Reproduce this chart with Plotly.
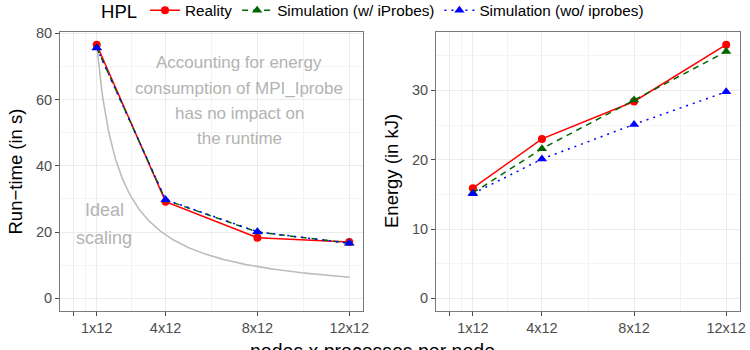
import numpy as np
import plotly.graph_objects as go

# ---------------- data ----------------
nodes = [1, 4, 8, 12]
tick_vals = [0, 1, 4, 8, 12]
tick_text = ["", "1x12", "4x12", "8x12", "12x12"]

runtime_reality = [76.6, 29.2, 18.3, 17.0]
runtime_sim_iprobes = [75.7, 29.7, 20.0, 16.7]
runtime_sim_no_iprobes = [75.6, 29.8, 20.1, 16.6]

energy_reality = [15.9, 23.0, 28.4, 36.6]
energy_sim_iprobes = [15.2, 21.6, 28.6, 35.6]
energy_sim_no_iprobes = [15.1, 20.1, 25.1, 29.8]

series_names = ["Reality", "Simulation (w/ iProbes)", "Simulation (wo/ iprobes)"]

# ideal scaling derived from the single-node run time
ideal_nodes = np.linspace(1, 12, 200)
ideal_runtime = runtime_reality[0] / ideal_nodes

# ---------------- style ----------------
FONT = "Liberation Sans, Arial, sans-serif"
RED, GREEN, BLUE = "#ff0000", "#006400", "#0000ff"
GRID_MAJOR, GRID_MINOR = "#ebebeb", "#f4f4f4"
BORDER = "#7a7a7a"
TICKFONT = dict(family=FONT, size=14.5, color="#4d4d4d")
GREY_TXT = "#b3b3b3"

styles = [
    dict(color=RED, dash="solid", symbol="circle", size=8),
    dict(color=GREEN, dash="6px,5px", symbol="triangle-up", size=9),
    dict(color=BLUE, dash="2px,5px", symbol="triangle-up", size=9),
]

fig = go.Figure()

fig.add_trace(go.Scatter(x=ideal_nodes, y=ideal_runtime, mode="lines",
                         line=dict(color="#bdbdbd", width=1.6),
                         showlegend=False, hoverinfo="skip",
                         xaxis="x", yaxis="y"))

for i, (rt, en) in enumerate(zip(
        [runtime_reality, runtime_sim_iprobes, runtime_sim_no_iprobes],
        [energy_reality, energy_sim_iprobes, energy_sim_no_iprobes])):
    st = styles[i]
    common = dict(mode="lines+markers",
                  line=dict(color=st["color"], width=1.5, dash=st["dash"]),
                  marker=dict(color=st["color"], symbol=st["symbol"], size=st["size"]),
                  name=series_names[i], legendgroup=series_names[i])
    fig.add_trace(go.Scatter(x=nodes, y=rt, xaxis="x", yaxis="y", showlegend=True, **common))
    fig.add_trace(go.Scatter(x=nodes, y=en, xaxis="x2", yaxis="y2", showlegend=False, **common))


def xaxis_cfg(domain, anchor):
    return dict(domain=domain, anchor=anchor, range=[-0.6, 12.6],
                tickmode="array", tickvals=tick_vals, ticktext=tick_text,
                ticks="outside", ticklen=4, tickcolor="#4d4d4d", tickwidth=1,
                tickfont=TICKFONT, showline=True, linecolor=BORDER, linewidth=1,
                mirror=True, showgrid=True, gridcolor=GRID_MAJOR, gridwidth=1,
                zeroline=False,
                minor=dict(tickmode="array", tickvals=[0.5, 2.5, 6, 10],
                           showgrid=True, gridcolor=GRID_MINOR, gridwidth=1, ticks=""))


def yaxis_cfg(domain, anchor, rng, tv, mv):
    return dict(domain=domain, anchor=anchor, range=rng,
                tickmode="array", tickvals=tv,
                ticks="outside", ticklen=4, tickcolor="#4d4d4d", tickwidth=1,
                tickfont=TICKFONT, showline=True, linecolor=BORDER, linewidth=1,
                mirror=True, showgrid=True, gridcolor=GRID_MAJOR, gridwidth=1,
                zeroline=False,
                minor=dict(tickmode="array", tickvals=mv,
                           showgrid=True, gridcolor=GRID_MINOR, gridwidth=1, ticks=""))


ydom = [39 / 350, 318 / 350]
fig.update_layout(
    width=750, height=350,
    margin=dict(l=0, r=0, t=0, b=0, autoexpand=False),
    paper_bgcolor="white", plot_bgcolor="white",
    font=dict(family=FONT, color="#000000"),
    xaxis=xaxis_cfg([60 / 750, 363 / 750], "y"),
    xaxis2=xaxis_cfg([436 / 750, 740 / 750], "y2"),
    yaxis=yaxis_cfg(ydom, "x", [-3.83, 80.43], [0, 20, 40, 60, 80], [10, 30, 50, 70]),
    yaxis2=yaxis_cfg(ydom, "x2", [-1.83, 38.43], [0, 10, 20, 30], [5, 15, 25, 35]),
    legend=dict(orientation="h", x=0.4987, xanchor="center", y=1.018, yanchor="top",
                title=dict(text="HPL", font=dict(family=FONT, size=18.5, color="#000")),
                font=dict(family=FONT, size=15.3, color="#000"),
                bgcolor="rgba(0,0,0,0)", itemwidth=30, tracegroupgap=0),
    showlegend=True,
)

ann = []
# axis titles
ann.append(dict(text="Run\u2212time (in s)", x=15 / 750, y=(350 - 171.5) / 350, xref="paper", yref="paper",
                textangle=-90, showarrow=False, xanchor="center", yanchor="middle",
                font=dict(family=FONT, size=18.5, color="#000")))
ann.append(dict(text="Energy (in kJ)", x=391.5 / 750, y=(350 - 171.5) / 350, xref="paper", yref="paper",
                textangle=-90, showarrow=False, xanchor="center", yanchor="middle",
                font=dict(family=FONT, size=18.5, color="#000")))
ann.append(dict(text="nodes x processes per node", x=372 / 750, y=(350 - 337.5) / 350, xref="paper", yref="paper",
                showarrow=False, xanchor="center", yanchor="top",
                font=dict(family=FONT, size=19.5, color="#000")))
# in-plot notes
note_lines = ["Accounting for energy", "consumption of MPI_Iprobe", "has no impact on", "the runtime"]
note_y = [71.3, 63.4, 55.8, 48.3]
for t, yv in zip(note_lines, note_y):
    ann.append(dict(text=t, x=7.2, y=yv, xref="x", yref="y", showarrow=False,
                    xanchor="center", yanchor="middle",
                    font=dict(family=FONT, size=17, color=GREY_TXT)))
for t, yv in zip(["Ideal", "scaling"], [26.6, 18.1]):
    ann.append(dict(text=t, x=1.33, y=yv, xref="x", yref="y", showarrow=False,
                    xanchor="center", yanchor="middle",
                    font=dict(family=FONT, size=18, color=GREY_TXT)))
fig.update_layout(annotations=ann)

fig.write_html("out.html")
